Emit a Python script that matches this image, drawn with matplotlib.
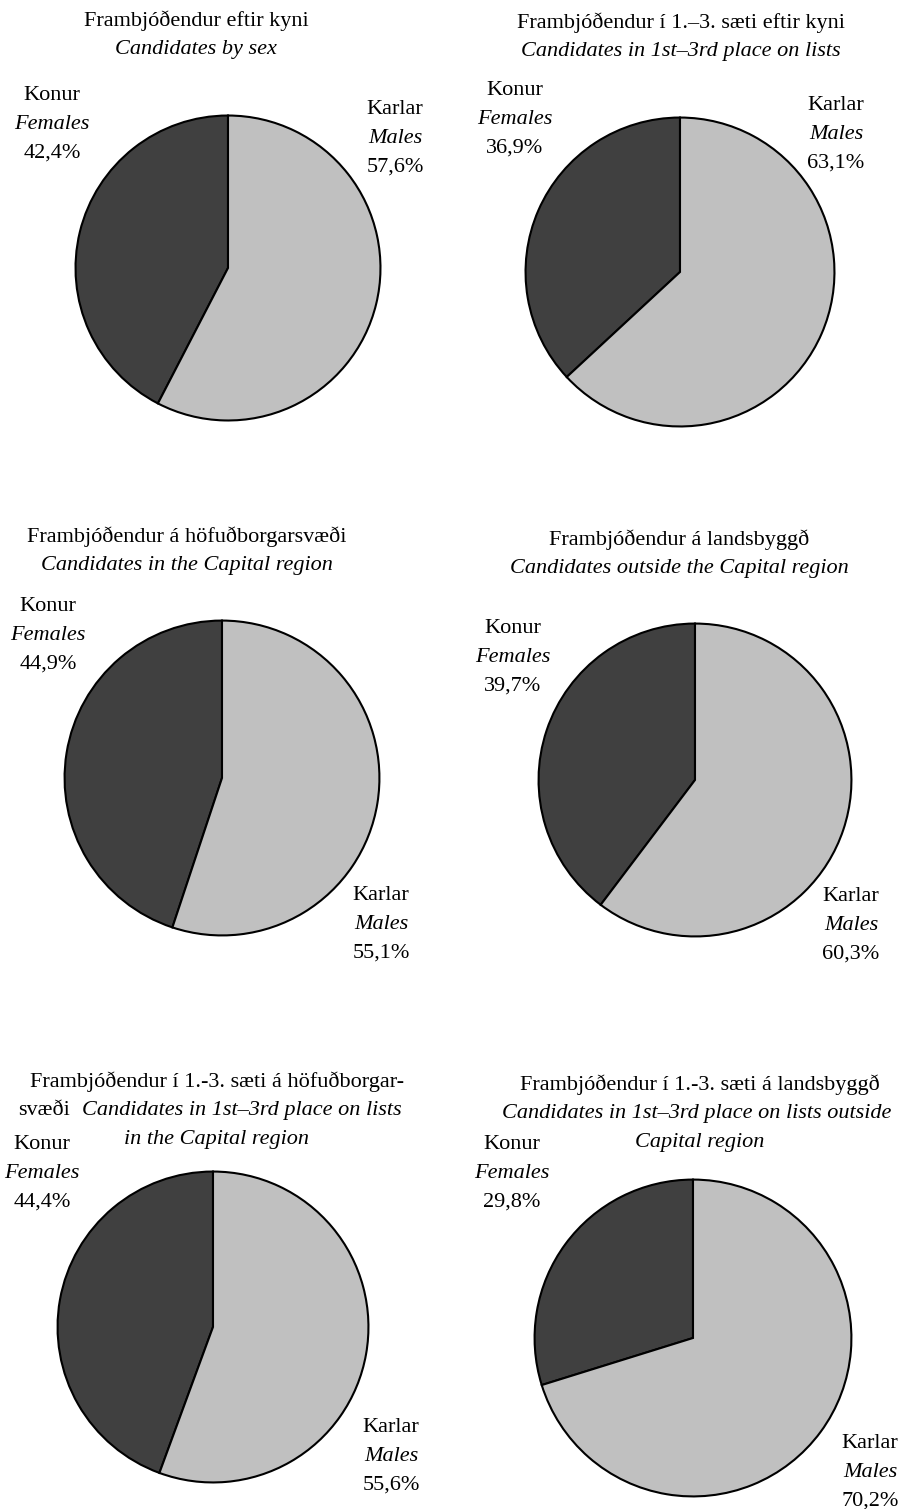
import matplotlib
matplotlib.use("Agg")
import matplotlib.pyplot as plt

W, H = 914, 1509
DPI = 100

# ---- data ----
titles_is = [
    "Frambjóðendur eftir kyni",
    "Frambjóðendur í 1.–3. sæti eftir kyni",
    "Frambjóðendur á höfuðborgarsvæði",
    "Frambjóðendur á landsbyggð",
    "Frambjóðendur í 1.-3. sæti á höfuðborgar-",
    "Frambjóðendur í 1.-3. sæti á landsbyggð",
]
titles_en = [
    "Candidates by sex",
    "Candidates in 1st–3rd place on lists",
    "Candidates in the Capital region",
    "Candidates outside the Capital region",
    "Candidates in 1st–3rd place on lists",
    "Candidates in 1st–3rd place on lists outside",
]
females = [42.4, 36.9, 44.9, 39.7, 44.4, 29.8]
males = [57.6, 63.1, 55.1, 60.3, 55.6, 70.2]
cat_is = ["Konur", "Karlar"]
cat_en = ["Females", "Males"]

# ---- layout (pixels) ----
pies = [  # cx, cy, r
    (228, 268, 154),
    (680, 272, 156),
    (222, 778, 159),
    (695, 780, 158),
    (213, 1327, 157),
    (693, 1338, 160),
]
fem_lab = [(52, 93), (515, 88), (48, 604), (513, 626), (42, 1142), (512, 1142)]
mal_lab = [(395, 107), (836, 103), (381, 893), (851, 894), (391, 1425), (870, 1441)]
title_pos = [(196, 18), (681, 20), (187, 534), (679, 537), (217, 1079), (700, 1082)]

FONT = "Liberation Serif"
FS = 16
LS = 29  # line spacing px

fig = plt.figure(figsize=(W / DPI, H / DPI), dpi=DPI)
fig.patch.set_facecolor("white")


def ftext(x, y, s, style="normal", ha="center"):
    return fig.text(x / W, 1 - y / H, s, ha=ha, va="center_baseline",
                    fontsize=FS, family=FONT, style=style)


for i, (cx, cy, r) in enumerate(pies):
    ax = fig.add_axes([(cx - r) / W, 1 - (cy + r) / H, 2 * r / W, 2 * r / H])
    ax.pie([females[i], males[i]], colors=["#404040", "#c0c0c0"],
           startangle=90, counterclock=True,
           wedgeprops=dict(edgecolor="black", linewidth=1.5))
    ax.set_xlim(-1.01, 1.01)
    ax.set_ylim(-1.01, 1.01)
    ax.set_aspect("equal")
    ax.axis("off")

    fx, fy = fem_lab[i]
    ftext(fx, fy, cat_is[0])
    ftext(fx, fy + LS, cat_en[0], style="italic")
    ftext(fx, fy + 2 * LS, f"{females[i]:.1f}%".replace(".", ","))
    mx, my = mal_lab[i]
    ftext(mx, my, cat_is[1])
    ftext(mx, my + LS, cat_en[1], style="italic")
    ftext(mx, my + 2 * LS, f"{males[i]:.1f}%".replace(".", ","))

# titles
for i in range(6):
    tx, ty = title_pos[i]
    ftext(tx, ty, titles_is[i])
    if i == 4:
        ftext(82, ty + LS, titles_en[i], style="italic", ha="left")
        ftext(70, ty + LS, "svæði", ha="right")
        ftext(tx, ty + 2 * LS, "in the Capital region", style="italic")
    elif i == 5:
        ftext(tx - 3, ty + LS, titles_en[i], style="italic")
        ftext(tx, ty + 2 * LS, "Capital region", style="italic")
    else:
        ftext(tx, ty + LS, titles_en[i], style="italic")

fig.savefig("out.png", dpi=DPI, facecolor="white")
